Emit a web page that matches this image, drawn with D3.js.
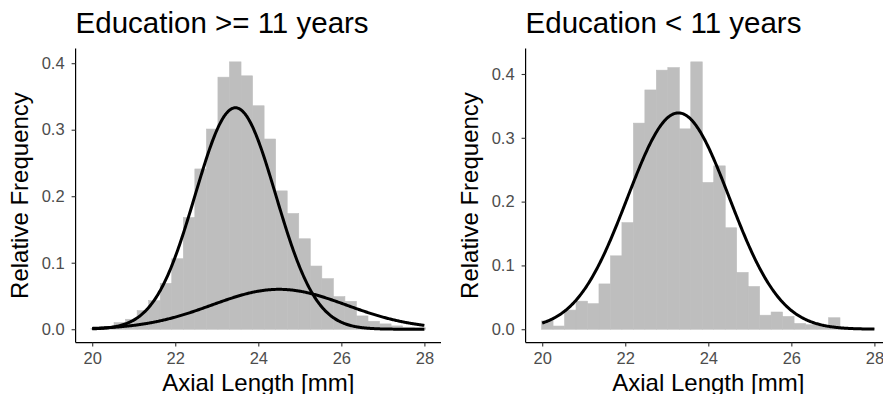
<!DOCTYPE html>
<html>
<head>
<meta charset="utf-8">
<script src="https://cdn.jsdelivr.net/npm/d3@7"></script>
<style>
  html, body { margin: 0; padding: 0; background: #ffffff; }
  svg { display: block; font-family: "Liberation Sans", Arial, sans-serif; }
</style>
</head>
<body>
<svg id="chart" width="883" height="394"></svg>
<script>
// Panel titles
const panelTitles = ["Education >= 11 years", "Education < 11 years"];

// Histogram bins (mm): first bin edge and bin width per panel
const binStarts = [19.97, 19.985];
const binWidths = [0.278, 0.2764];

// Relative frequency per bin, panel 1 (education >= 11 years)
const freqHigh = [0.001, 0.002, 0.010, 0.015, 0.028, 0.043, 0.069, 0.106, 0.168, 0.241,
                  0.301, 0.379, 0.402, 0.381, 0.336, 0.286, 0.208, 0.174, 0.136, 0.095,
                  0.076, 0.049, 0.042, 0.020, 0.012, 0.008, 0.005, 0.003, 0.002];

// Relative frequency per bin, panel 2 (education < 11 years)
const freqLow = [0.013, 0.005, 0.030, 0.044, 0.040, 0.071, 0.115, 0.167, 0.323, 0.375,
                 0.406, 0.410, 0.314, 0.419, 0.230, 0.256, 0.159, 0.089, 0.067, 0.022,
                 0.027, 0.020, 0.009, 0.007, 0.005, 0.018, 0.003, 0.002, 0.001];

// Fitted normal components: mean (mm), sd (mm), peak height
const compsHigh = [
  { mean: 23.45, sd: 0.97, peak: 0.333 },
  { mean: 24.50, sd: 1.62, peak: 0.060 }
];
const compsLow = [
  { mean: 23.28, sd: 1.23, peak: 0.339 }
];

// Axis ticks
const xTicks = [20, 22, 24, 26, 28];
const yTicks = [0.0, 0.1, 0.2, 0.3, 0.4];
const xLabel = "Axial Length [mm]";
const yLabel = "Relative Frequency";

const panels = [
  { title: panelTitles[0], start: binStarts[0], width: binWidths[0], freq: freqHigh, comps: compsHigh, left: 75.6 },
  { title: panelTitles[1], start: binStarts[1], width: binWidths[1], freq: freqLow,  comps: compsLow,  left: 525.6 }
];

const svg = d3.select("#chart");
const panelW = 365.4;
const yBottom = 342.6, yTop = 48.5;
const barColor = "#bebebe";
const font = "'Liberation Sans', Arial, sans-serif";

panels.forEach(p => {
  const bins = p.freq.map((v, i) => ({ x0: p.start + i * p.width, x1: p.start + (i + 1) * p.width, v }));
  const maxV = d3.max(p.freq);
  const x = d3.scaleLinear().domain([19.6, 28.4]).range([p.left, p.left + panelW]);
  const y = d3.scaleLinear().domain([-0.05 * maxV, 1.05 * maxV]).range([yBottom, yTop]);

  const g = svg.append("g");

  // histogram bars (thin same-colour stroke closes the seams between neighbours)
  g.append("g").selectAll("rect").data(bins.filter(d => d.v > 0)).join("rect")
    .attr("x", d => x(d.x0))
    .attr("width", d => x(d.x1) - x(d.x0))
    .attr("y", d => y(d.v))
    .attr("height", d => y(0) - y(d.v))
    .attr("fill", barColor)
    .attr("stroke", barColor)
    .attr("stroke-width", 0.6);

  // fitted density curves
  const grid = d3.range(20, 28.0001, 0.02);
  const line = d3.line().x(d => x(d[0])).y(d => y(d[1]));
  p.comps.forEach(c => {
    const pts = grid.map(t => [t, c.peak * Math.exp(-((t - c.mean) ** 2) / (2 * c.sd * c.sd))]);
    g.append("path").datum(pts)
      .attr("d", line)
      .attr("fill", "none")
      .attr("stroke", "#000")
      .attr("stroke-width", 3)
      .attr("stroke-linejoin", "round");
  });

  // axes
  const xAxis = d3.axisBottom(x).tickValues(xTicks).tickSize(4).tickPadding(6).tickFormat(d3.format("d"));
  const yAxis = d3.axisLeft(y).tickValues(yTicks).tickSize(4).tickPadding(7).tickFormat(d3.format(".1f"));

  const gx = g.append("g").attr("transform", `translate(0,${yBottom})`).call(xAxis);
  const gy = g.append("g").attr("transform", `translate(${p.left},0)`).call(yAxis);
  [gx, gy].forEach(ax => {
    ax.select(".domain").attr("stroke", "#000").attr("stroke-width", 1.2);
    ax.selectAll(".tick line").attr("stroke", "#333").attr("stroke-width", 1.1);
    ax.selectAll(".tick text")
      .attr("fill", "#4d4d4d")
      .style("font-size", "16.5px")
      .style("font-family", font);
  });
  gy.select(".domain").attr("d", `M0,${yBottom}V${yTop}`);
  gx.select(".domain").attr("d", `M${p.left},0H${p.left + panelW}`);

  // panel title, left-aligned with the panel
  g.append("text")
    .attr("x", p.left)
    .attr("y", 33)
    .attr("fill", "#000")
    .style("font-size", "29.5px")
    .text(p.title);

  // x axis title
  g.append("text")
    .attr("x", p.left + panelW / 2)
    .attr("y", 391)
    .attr("text-anchor", "middle")
    .attr("fill", "#000")
    .style("font-size", "24px")
    .text(xLabel);

  // y axis title
  g.append("text")
    .attr("transform", `translate(${p.left - 48},${(yBottom + yTop) / 2}) rotate(-90)`)
    .attr("text-anchor", "middle")
    .attr("fill", "#000")
    .style("font-size", "24px")
    .text(yLabel);
});
</script>
</body>
</html>
